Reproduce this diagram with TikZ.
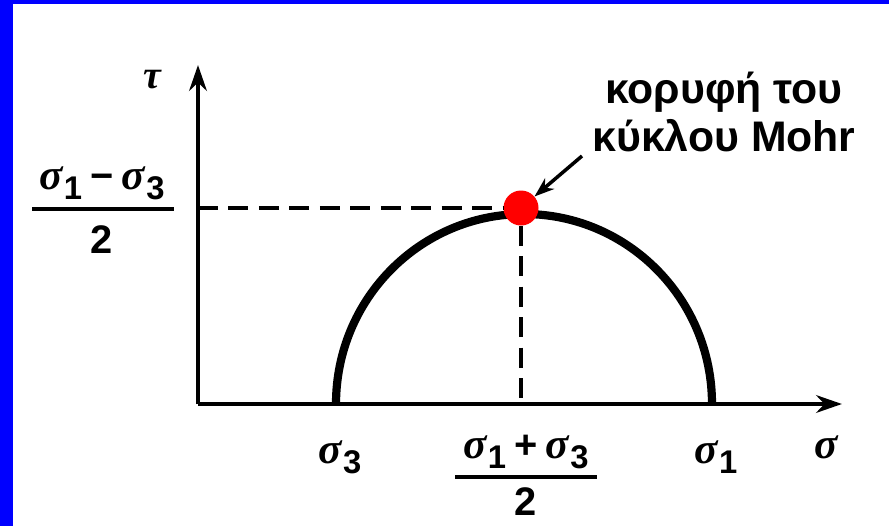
\documentclass[tikz,border=0pt]{standalone}
\usepackage{fontspec}
\setmainfont{Liberation Sans}
\newfontfamily\sgmfont{Liberation Serif}
\usetikzlibrary{arrows.meta, positioning}
\definecolor{frameblue}{RGB}{0,0,255}
\definecolor{dotred}{RGB}{255,0,0}
\newcommand{\sgm}{{\sgmfont\bfseries\itshape\fontsize{37}{40}\selectfont σ}}
\newcommand{\sgmsub}[1]{\sgm\kern1pt\raisebox{-8.5pt}{\bfseries\fontsize{28}{30}\selectfont #1}}
\newcommand{\opsign}[1]{\hspace{7pt}{\bfseries\fontsize{34}{40}\selectfont #1}\hspace{7pt}}

\begin{document}
\begin{tikzpicture}[x=0.03cm, y=-0.03cm, >=Stealth]
  \tikzstyle{axis} = [line width=4.2pt, -{Stealth[length=22pt, width=15pt]}]
  \tikzstyle{guide} = [line width=2.6pt, dash pattern=on 17pt off 9pt]
  \tikzstyle{circ} = [line width=7pt]
  \tikzstyle{bar} = [line width=3pt]
  \tikzstyle{lbl} = [inner sep=0pt, font=\bfseries\fontsize{34}{40}\selectfont]
  \tikzstyle{note} = [inner sep=0pt, align=center, font=\bfseries\fontsize{36.5}{41}\selectfont]

  \useasboundingbox (0,0) rectangle (889,526);
  % frame
  \fill[frameblue] (0,0) rectangle (13,526);
  \fill[frameblue] (0,0) rectangle (889,4);

  % axes
  \coordinate (O) at (198,404);
  \coordinate (xend) at (842,404);
  \coordinate (yend) at (198,65);
  \draw[axis] (O) -- (xend);
  \draw[axis] (O) -- (yend);

  % Mohr half circle
  \draw[circ] (336,404) arc[start angle=180, end angle=360, x radius=188, y radius=190];

  % top of the circle
  \node[circle, fill=dotred, inner sep=0pt, minimum size=1.05cm] (peak) at (521,208) {};
  \draw[guide] (O |- peak) -- (peak);
  \draw[guide] (peak) -- (peak |- O);

  % axis labels
  \node[lbl] (tau) at (152,80) {{\sgmfont\bfseries\itshape\fontsize{34}{40}\selectfont τ}};
  \node[lbl] (sig) at (826,447) {\sgm};
  \node[lbl] (s3) at (340,457) {\sgmsub{3}};
  \node[lbl] (s1) at (716,457) {\sgmsub{1}};

  % (s1 - s3)/2
  \node[lbl] (difnum) at (102,183) {\sgmsub{1}\opsign{−}\sgmsub{3}};
  \draw[bar] (32,209) -- (174,209);
  \node[lbl] (difden) at (102,240) {2};

  % (s1 + s3)/2
  \node[lbl] (sumnum) at (526,452) {\sgmsub{1}\opsign{+}\sgmsub{3}};
  \draw[bar] (455,477) -- (597,477);
  \node[lbl] (sumden) at (526,502) {2};

  % note
  \node[note] (note) at (724,112) {κορυφή του\\κύκλου Mohr};
  \coordinate (ptr) at (582,156);
  \draw[line width=3pt, -{Stealth[length=17pt, width=12pt]}] (ptr) -- (peak);
\end{tikzpicture}
\end{document}
